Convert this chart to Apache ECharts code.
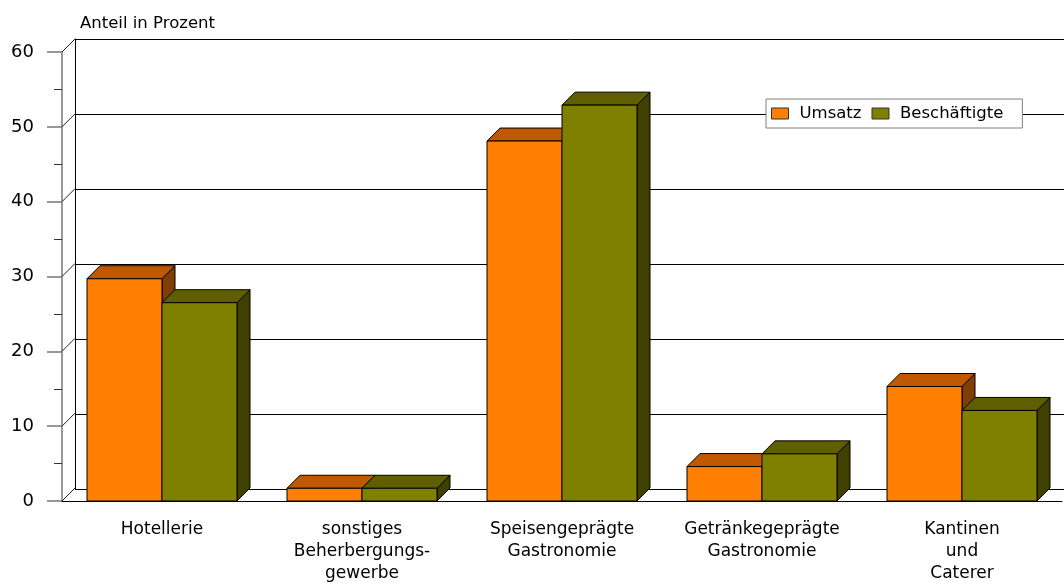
<!DOCTYPE html>
<html>
<head>
<meta charset="utf-8">
<script src="https://cdn.jsdelivr.net/npm/echarts@6/dist/echarts.min.js"></script>
<style>html,body{margin:0;padding:0;background:#fff}#c{width:1064px;height:585px}</style>
</head>
<body>
<div id="c"></div>
<script>
const categories = ['Hotellerie', 'sonstiges\nBeherbergungs-\ngewerbe', 'Speisengeprägte\nGastronomie', 'Getränkegeprägte\nGastronomie', 'Kantinen\nund\nCaterer'];
const umsatz = [29.7, 1.7, 48.1, 4.6, 15.3];
const beschaeftigte = [26.5, 1.7, 52.9, 6.3, 12.1];
const yTicks = [0, 10, 20, 30, 40, 50, 60];
const seriesNames = ['Umsatz', 'Beschäftigte'];

const FONT = 'DejaVu Sans';
const D = 13;

function bar3d(sign, front, topc, side) {
  return function (params, api) {
    const c = api.value(0), v = api.value(1);
    const top = api.coord([c, v]);
    const base = api.coord([c, 0]);
    const band = api.size([1, 0])[0];
    const w = band * 0.375;
    const x0 = sign < 0 ? top[0] - w : top[0];
    const x1 = x0 + w;
    const yT = top[1], yB = base[1];
    const st = { stroke: '#000', lineWidth: 1 };
    return {
      type: 'group',
      children: [
        { type: 'polygon', shape: { points: [[x1, yB], [x1 + D, yB - D], [x1 + D, yT - D], [x1, yT]] }, style: Object.assign({ fill: side }, st) },
        { type: 'polygon', shape: { points: [[x0, yT], [x0 + D, yT - D], [x1 + D, yT - D], [x1, yT]] }, style: Object.assign({ fill: topc }, st) },
        { type: 'rect', shape: { x: x0, y: yT, width: w, height: yB - yT }, style: Object.assign({ fill: front }, st) }
      ]
    };
  };
}

const chart = echarts.init(document.getElementById('c'));
chart.setOption({
  animation: false,
  backgroundColor: '#fff',
  title: {
    text: 'Anteil in Prozent', left: 75, top: 10,
    textStyle: { fontFamily: FONT, fontSize: 16.5, fontWeight: 'normal', color: '#000' }
  },
  legend: {
    left: 766, top: 99,
    data: seriesNames,
    icon: 'rect', itemWidth: 17, itemHeight: 11, itemGap: 10,
    backgroundColor: '#fff', borderColor: '#808080', borderWidth: 1,
    padding: [6, 19, 6, 5],
    textStyle: { fontFamily: FONT, fontSize: 16.5, color: '#000', padding: [0, 0, 0, 6] },
    itemStyle: { borderColor: '#333', borderWidth: 1 }
  },
  grid: [
    { left: 62, top: 52, width: 1000, bottom: 83 },
    { left: 75, top: 39, width: 1000, bottom: 96 }
  ],
  xAxis: [
    {
      type: 'category', gridIndex: 0, data: categories,
      axisLine: { show: true, lineStyle: { color: '#000', width: 1 } },
      axisTick: { show: false },
      axisLabel: { fontFamily: FONT, fontSize: 17, color: '#000', lineHeight: 22, margin: 18, interval: 0 }
    },
    {
      type: 'category', gridIndex: 1, data: categories, show: false
    }
  ],
  yAxis: [
    {
      type: 'value', gridIndex: 0, min: 0, max: 60, interval: 10,
      axisLine: { show: true, lineStyle: { color: '#777', width: 1.5 } },
      axisTick: { show: true, length: 15, lineStyle: { color: '#777', width: 1.5 } },
      minorTick: { show: true, splitNumber: 2, length: 8, lineStyle: { color: '#333', width: 1 } },
      splitLine: { show: false },
      axisLabel: { fontFamily: FONT, fontSize: 18, color: '#000', margin: 28 }
    },
    {
      type: 'value', gridIndex: 1, min: 0, max: 60, interval: 10,
      axisLine: { show: true, lineStyle: { color: '#000', width: 1 } },
      axisTick: { show: false },
      axisLabel: { show: false },
      splitLine: { show: true, lineStyle: { color: '#000', width: 1 } }
    }
  ],
  series: [
    {
      name: 'diag', type: 'custom', xAxisIndex: 0, yAxisIndex: 0, silent: true,
      data: yTicks.map(t => [0, t]),
      renderItem: function (params, api) {
        const p = api.coord([0, api.value(1)]);
        const x = params.coordSys.x;
        return { type: 'line', shape: { x1: x, y1: p[1], x2: x + D, y2: p[1] - D }, style: { stroke: '#222', lineWidth: 1 } };
      },
      z: 1
    },
    {
      name: seriesNames[0], type: 'custom', xAxisIndex: 0, yAxisIndex: 0,
      itemStyle: { color: '#FF7F00' },
      data: umsatz.map((v, i) => [i, v]),
      renderItem: bar3d(-1, '#FF7F00', '#C05800', '#7F3F00'),
      z: 3
    },
    {
      name: seriesNames[1], type: 'custom', xAxisIndex: 0, yAxisIndex: 0,
      itemStyle: { color: '#808000' },
      data: beschaeftigte.map((v, i) => [i, v]),
      renderItem: bar3d(1, '#808000', '#5F5F00', '#404000'),
      z: 4
    }
  ]
});
</script>
</body>
</html>
